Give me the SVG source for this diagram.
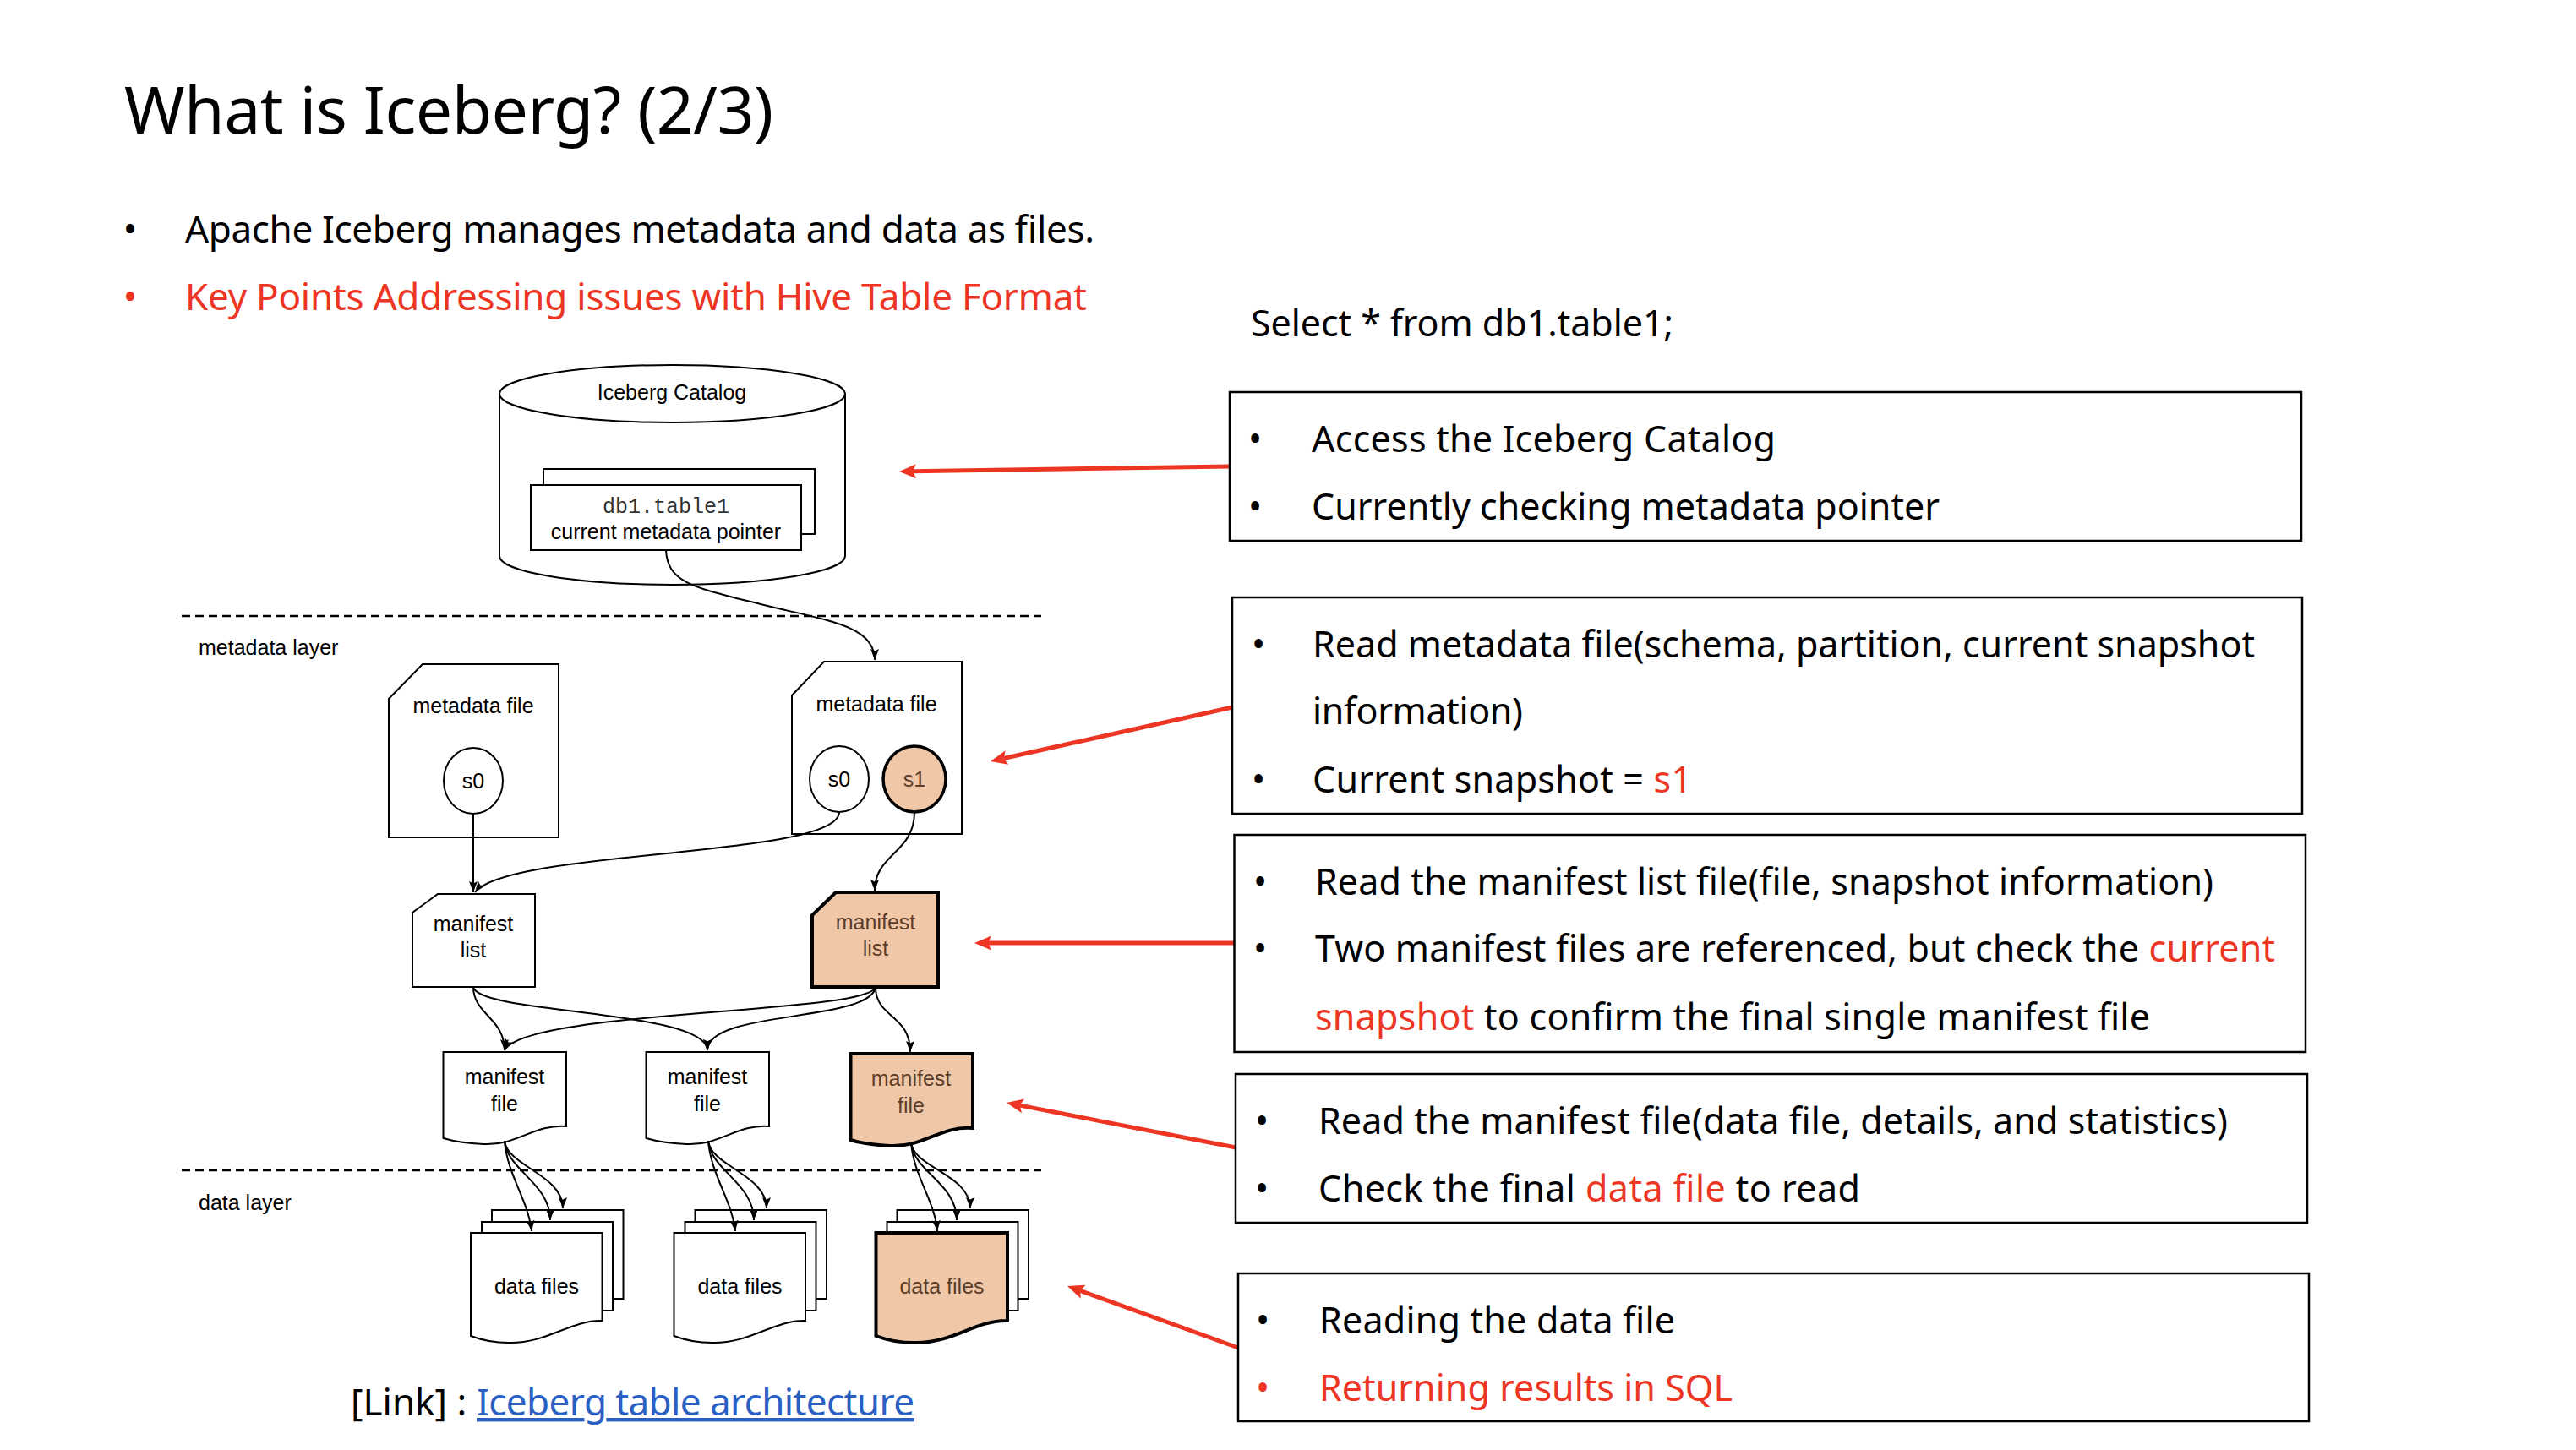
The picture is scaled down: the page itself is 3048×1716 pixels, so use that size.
<svg xmlns="http://www.w3.org/2000/svg" width="3048" height="1716" viewBox="0 0 3048 1716">
<defs>
<style>
.ppt{font-family:"Noto Sans","Open Sans","Liberation Sans",sans-serif;font-size:43px;fill:#000}
.title{font-size:77px}
.big{font-size:44px}
.red{fill:#ED3524}
.link{fill:#2A5FC4;text-decoration:underline}
.bul{text-anchor:middle}
.dg{font-family:"Liberation Sans",Arial,sans-serif;font-size:25px;fill:#000;text-anchor:middle}
.lbl{font-family:"Liberation Sans",Arial,sans-serif;font-size:25px;fill:#000}
.mono{font-family:"Liberation Mono","Courier New",monospace;font-size:25px;fill:#333;text-anchor:middle}
.node{fill:#fff;stroke:#000;stroke-width:2}
.hl{fill:#F0C8A8;stroke:#000;stroke-width:4}
.hlt{fill:#5C3D2A}
.edge{fill:none;stroke:#000;stroke-width:2;marker-end:url(#ah)}
.callout{fill:none;stroke:#ED3524;stroke-width:5;marker-end:url(#rah)}
.box{fill:none;stroke:#000;stroke-width:2.5}
.dash{stroke:#000;stroke-width:2.5;stroke-dasharray:10 6}
</style>
<marker id="ah" markerUnits="userSpaceOnUse" viewBox="0 0 13 10" markerWidth="13" markerHeight="10" refX="13" refY="5" orient="auto">
<path d="M0,0 L13,5 L0,10 L2.5,5 Z" fill="#000"/>
</marker>
<marker id="rah" markerUnits="userSpaceOnUse" viewBox="0 0 20 17" markerWidth="20" markerHeight="17" refX="4" refY="8.5" orient="auto">
<path d="M0,0 L20,8.5 L0,17 L4,8.5 Z" fill="#ED3524"/>
</marker>
</defs>
<rect width="3048" height="1716" fill="#fff"/>

<g id="heading">
<text class="ppt title" x="147" y="158" textLength="768">What is Iceberg? (2/3)</text>
<text class="ppt big bul" x="154" y="287">•</text>
<text class="ppt big" x="219" y="287" textLength="1076">Apache Iceberg manages metadata and data as files.</text>
<text class="ppt big bul red" x="154" y="367">•</text>
<text class="ppt big red" x="219" y="367" textLength="1067">Key Points Addressing issues with Hive Table Format</text>
<text class="ppt" x="1480" y="398" textLength="500">Select * from db1.table1;</text>
</g>

<g id="layers">
<line class="dash" x1="215" y1="729" x2="1232" y2="729"/>
<line class="dash" x1="215" y1="1385" x2="1232" y2="1385"/>
<text class="lbl" x="235" y="775">metadata layer</text>
<text class="lbl" x="235" y="1432">data layer</text>
</g>

<g id="catalog">
<path class="node" d="M591,466 V658 A204.5,34 0 0 0 1000,658 V466 Z"/>
<ellipse class="node" cx="795.5" cy="466" rx="204.5" ry="34"/>
<text class="dg" x="795" y="473">Iceberg Catalog</text>
<rect class="node" x="643" y="555" width="321" height="77"/>
<rect class="node" x="628" y="574" width="320" height="77"/>
<text class="mono" x="788" y="607">db1.table1</text>
<text class="dg" x="788" y="638">current metadata pointer</text>
</g>

<g id="metadata-file-0">
<path class="node" d="M500,786 H661 V991 H460 V827 Z"/>
<text class="dg" x="560" y="844">metadata file</text>
<ellipse class="node" cx="560" cy="924" rx="35" ry="39"/>
<text class="dg" x="560" y="933">s0</text>
</g>

<g id="metadata-file-1">
<path class="node" d="M975,783 H1138 V987 H937 V823 Z"/>
<text class="dg" x="1037" y="842">metadata file</text>
<ellipse class="node" cx="993" cy="922" rx="35" ry="39"/>
<text class="dg" x="993" y="931">s0</text>
<ellipse class="hl" cx="1082" cy="922" rx="37" ry="39" style="stroke-width:3.5"/>
<text class="dg hlt" x="1082" y="931">s1</text>
</g>

<g id="manifest-list-0">
<path class="node" d="M518,1058 H633 V1168 H488 V1080 Z"/>
<text class="dg" x="560" y="1102">manifest</text>
<text class="dg" x="560" y="1133">list</text>
</g>

<g id="manifest-list-1">
<path class="hl" d="M989,1056 H1110 V1168 H961 V1083 Z"/>
<text class="dg hlt" x="1036" y="1100">manifest</text>
<text class="dg hlt" x="1036" y="1131">list</text>
</g>

<g id="manifest-file-0">
<path class="node" d="M524.5,1245 H670 V1333 C632,1330 612,1356 572,1354 C552,1353 538,1351 524.5,1347 Z"/>
<text class="dg" x="597" y="1283">manifest</text>
<text class="dg" x="597" y="1315">file</text>
</g>

<g id="manifest-file-1">
<path class="node" d="M764.5,1245 H910 V1333 C872,1330 852,1356 812,1354 C792,1353 778,1351 764.5,1347 Z"/>
<text class="dg" x="837" y="1283">manifest</text>
<text class="dg" x="837" y="1315">file</text>
</g>

<g id="manifest-file-2">
<path class="hl" d="M1006.5,1247 H1151 V1335 C1113,1332 1093,1358 1053,1356 C1033,1355 1019,1353 1006.5,1349 Z"/>
<text class="dg hlt" x="1078" y="1285">manifest</text>
<text class="dg hlt" x="1078" y="1317">file</text>
</g>

<g id="data-files-0">
<rect class="node" x="582" y="1432" width="155.5" height="105"/>
<rect class="node" x="570" y="1446" width="155" height="105"/>
<path class="node" d="M557,1459 H712.5 V1563 C675,1562 648,1590 602,1589 C584,1589 570,1586 557,1581 Z"/>
<text class="dg" x="635" y="1531">data files</text>
</g>

<g id="data-files-1">
<rect class="node" x="822.5" y="1432" width="155.5" height="105"/>
<rect class="node" x="810.5" y="1446" width="155" height="105"/>
<path class="node" d="M797.5,1459 H953 V1563 C915.5,1562 888.5,1590 842.5,1589 C824.5,1589 810.5,1586 797.5,1581 Z"/>
<text class="dg" x="875.5" y="1531">data files</text>
</g>

<g id="data-files-2">
<rect class="node" x="1061.5" y="1432" width="155.5" height="105"/>
<rect class="node" x="1049.5" y="1446" width="155" height="105"/>
<path class="hl" d="M1036.5,1459 H1192 V1563 C1154.5,1562 1127.5,1590 1081.5,1589 C1063.5,1589 1049.5,1586 1036.5,1581 Z"/>
<text class="dg hlt" x="1114.5" y="1531">data files</text>
</g>

<g id="connectors">
<path class="edge" d="M788,651 C790,690 820,695 900,715 C980,735 1035,740 1035,781"/>
<path class="edge" d="M560,963 V1056"/>
<path class="edge" d="M993,961 C993,1015 600,1005 562,1056"/>
<path class="edge" d="M1082,961 C1082,1010 1035,1010 1035,1054"/>
<path class="edge" d="M560,1168 C560,1200 597,1205 597,1243"/>
<path class="edge" d="M560,1168 C565,1200 837,1195 837,1243"/>
<path class="edge" d="M1036,1168 C1030,1200 620,1195 597,1243"/>
<path class="edge" d="M1036,1168 C1030,1210 837,1195 837,1243"/>
<path class="edge" d="M1036,1168 C1036,1205 1077,1200 1077,1245"/>
<path class="edge" d="M597,1350 C600,1390 625,1420 629,1457"/>
<path class="edge" d="M597,1350 C600,1385 651,1400 651,1444"/>
<path class="edge" d="M597,1350 C600,1380 666,1390 666,1430"/>
<path class="edge" d="M838,1350 C841,1390 866,1420 870,1457"/>
<path class="edge" d="M838,1350 C841,1385 892,1400 892,1444"/>
<path class="edge" d="M838,1350 C841,1380 907,1390 907,1430"/>
<path class="edge" d="M1078,1352 C1081,1392 1106,1420 1109,1457"/>
<path class="edge" d="M1078,1352 C1081,1387 1132,1400 1132,1444"/>
<path class="edge" d="M1078,1352 C1081,1382 1148,1390 1148,1430"/>
</g>

<g id="callout-arrows">
<line class="callout" x1="1455" y1="552" x2="1080" y2="557.8"/>
<line class="callout" x1="1458" y1="837" x2="1187.6" y2="897.5"/>
<line class="callout" x1="1460" y1="1116" x2="1169" y2="1116"/>
<line class="callout" x1="1462" y1="1358" x2="1206.7" y2="1308.1"/>
<line class="callout" x1="1465" y1="1595" x2="1278" y2="1527.4"/>
</g>

<g id="box-1">
<rect class="box" x="1455" y="464" width="1268" height="176"/>
<text class="ppt bul" x="1485" y="535">•</text>
<text class="ppt" x="1552" y="535" textLength="549">Access the Iceberg Catalog</text>
<text class="ppt bul" x="1485" y="615">•</text>
<text class="ppt" x="1552" y="615" textLength="743">Currently checking metadata pointer</text>
</g>

<g id="box-2">
<rect class="box" x="1458" y="707" width="1266" height="256"/>
<text class="ppt bul" x="1489" y="778">•</text>
<text class="ppt" x="1553" y="778" textLength="1115">Read metadata file(schema, partition, current snapshot</text>
<text class="ppt" x="1553" y="857" textLength="249">information)</text>
<text class="ppt bul" x="1489" y="938">•</text>
<text class="ppt" x="1553" y="938" textLength="449">Current snapshot = <tspan class="red">s1</tspan></text>
</g>

<g id="box-3">
<rect class="box" x="1460.5" y="988" width="1267.5" height="257"/>
<text class="ppt bul" x="1491" y="1059">•</text>
<text class="ppt" x="1556" y="1059" textLength="1063">Read the manifest list file(file, snapshot information)</text>
<text class="ppt bul" x="1491" y="1138">•</text>
<text class="ppt" x="1556" y="1138" textLength="1136">Two manifest files are referenced, but check the <tspan class="red">current</tspan></text>
<text class="ppt" x="1556" y="1219" textLength="988"><tspan class="red">snapshot</tspan> to confirm the final single manifest file</text>
</g>

<g id="box-4">
<rect class="box" x="1462" y="1271" width="1268" height="176"/>
<text class="ppt bul" x="1493" y="1342">•</text>
<text class="ppt" x="1560" y="1342" textLength="1076">Read the manifest file(data file, details, and statistics)</text>
<text class="ppt bul" x="1493" y="1422">•</text>
<text class="ppt" x="1560" y="1422" textLength="641">Check the final <tspan class="red">data file</tspan> to read</text>
</g>

<g id="box-5">
<rect class="box" x="1465" y="1507" width="1267" height="175"/>
<text class="ppt bul" x="1494" y="1578">•</text>
<text class="ppt" x="1561" y="1578" textLength="421">Reading the data file</text>
<text class="ppt bul red" x="1494" y="1658">•</text>
<text class="ppt red" x="1561" y="1658" textLength="489">Returning results in SQL</text>
</g>

<g id="link">
<text class="ppt big" x="415" y="1675">[Link] :</text>
<text class="ppt big link" x="564" y="1675" textLength="518">Iceberg table architecture</text>
</g>
</svg>
